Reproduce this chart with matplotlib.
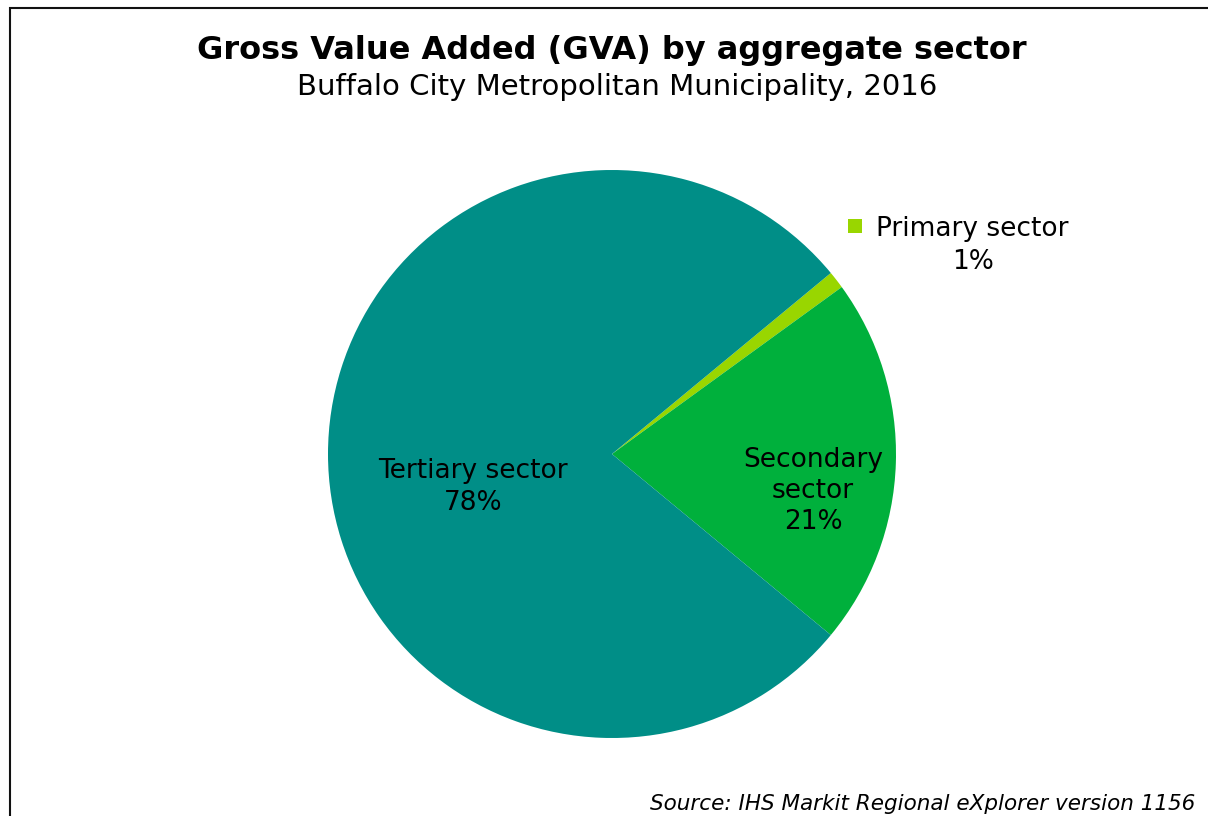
import matplotlib.pyplot as plt
from matplotlib.patches import Rectangle

sectors = ["Primary sector", "Secondary sector", "Tertiary sector"]
shares = [1, 21, 78]  # percent of GVA
colors = ["#99D600", "#00B03C", "#008E87"]

W, H = 1208, 816
fig = plt.figure(figsize=(W / 100, H / 100), dpi=100)
plt.rcParams['font.family'] = ['DejaVu Sans']

# outer frame, runs off the right and bottom edges
fig.patches.append(Rectangle((10 / W, -0.1), 1.2, 1 - 8 / H + 0.1,
                             transform=fig.transFigure, fill=False,
                             edgecolor="#111111", linewidth=1.5))

fig.text(612 / W, 1 - 50 / H, "Gross Value Added (GVA) by aggregate sector",
         ha="center", va="center", fontsize=23, fontweight="bold")
fig.text(617 / W, 1 - 87 / H, "Buffalo City Metropolitan Municipality, 2016",
         ha="center", va="center", fontsize=21)

# pie centre (612, 454), radius 284 px
cx, cy, r = 612, 454, 284
ax = fig.add_axes([(cx - r) / W, (H - cy - r) / H, 2 * r / W, 2 * r / H])
start = 180 - 360 * shares[2] / 100 / 2  # top edge of the tertiary wedge
wedges, _ = ax.pie(shares, colors=colors, startangle=start, counterclock=False,
                   radius=1, wedgeprops=dict(linewidth=0))
ax.set_xlim(-1, 1)
ax.set_ylim(-1, 1)
ax.set_aspect("equal")
ax.axis("off")

ax.text(-0.49, -0.116, "Tertiary sector\n78%", ha="center", va="center",
        fontsize=19, linespacing=1.3)
ax.text(0.708, -0.13, "Secondary\nsector\n21%", ha="center", va="center",
        fontsize=19, linespacing=1.27)

# primary sector label sits outside the pie with a colour key
fig.patches.append(Rectangle((848 / W, 1 - 233 / H), 14 / W, 14 / H,
                             transform=fig.transFigure, facecolor=colors[0],
                             edgecolor="none"))
fig.text(876 / W, 1 - 229 / H, "Primary sector", ha="left", va="center", fontsize=19)
fig.text(973 / W, 1 - 262 / H, "1%", ha="center", va="center", fontsize=19)

fig.text(1195 / W, 2 / H, "Source: IHS Markit Regional eXplorer version 1156",
         ha="right", va="bottom", fontsize=15.5, style="italic")

fig.savefig("out.png", dpi=100)
